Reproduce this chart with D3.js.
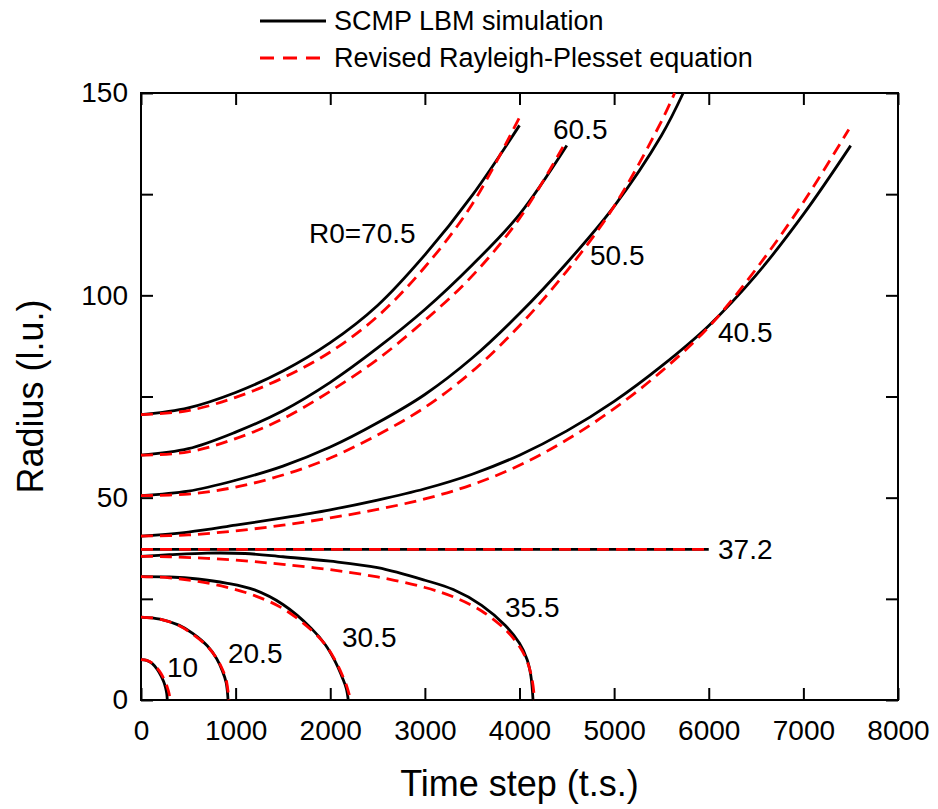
<!DOCTYPE html>
<html>
<head>
<meta charset="utf-8">
<script src="https://cdn.jsdelivr.net/npm/d3@7"></script>
<style>
  body { margin: 0; background: #fff; }
  text { font-family: "Liberation Sans", Arial, sans-serif; fill: #000; }
</style>
</head>
<body>
<div id="chart"></div>
<script>
// data: [time step, radius]
var sim705 = [[0,70.5],[500,72.2],[1000,76],[1500,81.3],[2000,88.3],[2500,97.5],[3000,110],[3500,124.7],[4000,142]];
var rp705  = [[0,70.5],[500,71.5],[1000,74.8],[1500,79.6],[2000,86],[2500,94.8],[3000,107],[3500,122.5],[4000,144]];
var sim605 = [[0,60.5],[500,62.1],[1000,66.2],[1500,71.5],[2000,78.5],[2500,87],[3000,96.5],[3500,107.5],[4000,120],[4500,137]];
var rp605  = [[0,60.5],[500,61.3],[1000,64.6],[1500,69.5],[2000,76.3],[2500,84.2],[3000,93.8],[3500,104.8],[4000,119],[4480,137.5]];
var sim505 = [[0,50.5],[500,51.6],[1000,54.3],[1500,57.8],[2000,62.5],[2500,68.5],[3000,75.5],[3500,84.5],[4000,95.5],[4500,108],[5000,122],[5500,139.5],[5730,150]];
var rp505  = [[0,50.5],[500,50.9],[1000,52.6],[1500,55.6],[2000,59.8],[2500,65.5],[3000,72.3],[3500,81.2],[4000,92.5],[4500,106],[5000,122],[5500,143],[5640,150]];
var sim405 = [[0,40.5],[500,41.5],[1000,43.2],[1500,45],[2000,47],[2500,49.4],[3000,52.2],[3500,55.8],[4000,60.5],[4500,66.5],[5000,73.8],[5500,82.5],[6000,92.5],[6500,105],[7000,120],[7500,137]];
var rp405  = [[0,40.5],[500,40.8],[1000,41.8],[1500,43.2],[2000,45],[2500,47.1],[3000,49.7],[3500,53.2],[4000,58],[4500,64.3],[5000,72],[5500,81.2],[6000,92.2],[6500,106.5],[7000,123],[7480,141]];
var sim372 = [[0,37.2],[6000,37.2]];
var rp372  = [[0,37.2],[6000,37.2]];
var sim355 = [[0,35.5],[300,35.9],[700,36.3],[1100,36.2],[1500,35.4],[2000,34.3],[2500,32.7],[3000,29.6],[3300,27.3],[3600,23.4],[3850,18.4],[4000,14],[4080,10],[4120,6],[4143,0]];
var rp355  = [[0,35.5],[300,35.4],[700,35],[1100,34.4],[1500,33.5],[2000,32.2],[2500,30.4],[3000,27.8],[3300,25.5],[3600,22],[3850,17.4],[4000,13.2],[4080,9.6],[4130,5.5],[4160,0]];
var sim305 = [[0,30.5],[300,30.4],[600,29.9],[900,28.9],[1200,27.2],[1500,23.6],[1800,17.7],[1950,13.6],[2050,9.6],[2130,5.4],[2170,2.8],[2190,0]];
var rp305  = [[0,30.5],[300,30.2],[600,29.3],[900,27.9],[1200,25.8],[1500,22.6],[1800,17.3],[1950,13.6],[2050,9.9],[2130,6],[2180,3],[2215,0]];
var sim205 = [[0,20.5],[200,20],[400,18.5],[550,16.4],[700,13.4],[800,10.2],[860,7.2],[900,4.3],[920,0]];
var rp205  = [[0,20.5],[200,20],[400,18.4],[550,16.2],[700,13.3],[800,10.3],[860,7.6],[900,5],[930,0]];
var sim10  = [[0,10],[60,9.8],[120,9],[170,7.6],[210,6],[240,4.5],[260,3],[272,1.6],[278,0]];
var rp10   = [[0,10],[60,9.8],[120,9.1],[170,7.9],[210,6.6],[250,4.8],[280,3],[298,1.5],[306,0]];

var simSeries = [sim705, sim605, sim505, sim405, sim372, sim355, sim305, sim205, sim10];
var rpSeries  = [rp705, rp605, rp505, rp405, rp372, rp355, rp305, rp205, rp10];

// curve labels and the (t, R) where each one sits
var curveLabels = ["R0=70.5", "60.5", "50.5", "40.5", "37.2", "35.5", "30.5", "20.5", "10"];
var labelT = [1775, 4354, 4745, 6098, 6098, 3847, 2124, 919, 275];
var labelR = [112.9, 138.6, 107.5, 88.5, 34.8, 20.5, 13.1, 9.1, 5.7];

var xTicks = [0, 1000, 2000, 3000, 4000, 5000, 6000, 7000, 8000];
var yTicks = [0, 25, 50, 75, 100, 125, 150];
var legendNames = ["SCMP LBM simulation", "Revised Rayleigh-Plesset equation"];

var W = 938, H = 809;
var margin = {left: 141, right: 898, top: 93, bottom: 700};

var svg = d3.select("#chart").append("svg")
  .attr("width", W).attr("height", H);

var x = d3.scaleLinear().domain([0, 8000]).range([margin.left, margin.right]);
var y = d3.scaleLinear().domain([0, 150]).range([margin.bottom, margin.top]);

function styleAxis(g) {
  g.select(".domain").remove();
  g.selectAll(".tick line").attr("stroke", "#000").attr("stroke-width", 2);
  g.selectAll("text").style("font-size", "28px")
    .style("font-family", "'Liberation Sans', Arial, sans-serif").attr("fill", "#000");
}

// axes, ticks pointing inwards
svg.append("g")
  .attr("transform", "translate(0," + margin.bottom + ")")
  .call(d3.axisBottom(x).tickValues(xTicks).tickSizeInner(-12).tickSizeOuter(0).tickPadding(20)
    .tickFormat(d3.format("d")))
  .call(styleAxis);
svg.append("g")
  .attr("transform", "translate(0," + margin.top + ")")
  .call(d3.axisTop(x).tickValues(xTicks).tickSizeInner(-12).tickSizeOuter(0).tickFormat(""))
  .call(styleAxis);
svg.append("g")
  .attr("transform", "translate(" + margin.left + ",0)")
  .call(d3.axisLeft(y).tickValues(yTicks).tickSizeInner(-12).tickSizeOuter(0).tickPadding(13)
    .tickFormat(function(d) { return d % 50 === 0 ? d : ""; }))
  .call(styleAxis);
svg.append("g")
  .attr("transform", "translate(" + margin.right + ",0)")
  .call(d3.axisRight(y).tickValues(yTicks).tickSizeInner(-12).tickSizeOuter(0).tickFormat(""))
  .call(styleAxis);

// frame
svg.append("rect")
  .attr("x", margin.left).attr("y", margin.top)
  .attr("width", margin.right - margin.left).attr("height", margin.bottom - margin.top)
  .attr("fill", "none").attr("stroke", "#000").attr("stroke-width", 2);

var line = d3.line()
  .x(function(d) { return x(d[0]); })
  .y(function(d) { return y(d[1]); })
  .curve(d3.curveCatmullRom.alpha(0.5));

var plot = svg.append("g");

plot.selectAll(".sim")
  .data(simSeries)
  .enter().append("path")
    .attr("class", "sim")
    .attr("d", line)
    .attr("fill", "none")
    .attr("stroke", "#000")
    .attr("stroke-width", 2.8);

plot.selectAll(".rp")
  .data(rpSeries)
  .enter().append("path")
    .attr("class", "rp")
    .attr("d", line)
    .attr("fill", "none")
    .attr("stroke", "#ff0000")
    .attr("stroke-width", 2.8)
    .attr("stroke-dasharray", "12,7");

// curve labels
svg.selectAll(".clabel")
  .data(curveLabels)
  .enter().append("text")
    .attr("class", "clabel")
    .attr("x", function(d, i) { return x(labelT[i]); })
    .attr("y", function(d, i) { return y(labelR[i]); })
    .style("font-size", "28px")
    .text(function(d) { return d; });

// axis titles
svg.append("text")
  .attr("x", (margin.left + margin.right) / 2)
  .attr("y", 796)
  .attr("text-anchor", "middle")
  .style("font-size", "36px")
  .text("Time step (t.s.)");

svg.append("text")
  .attr("transform", "translate(43," + (margin.top + margin.bottom) / 2 + ") rotate(-90)")
  .attr("text-anchor", "middle")
  .style("font-size", "36px")
  .text("Radius (l.u.)");

// legend
var legend = svg.append("g");
legend.append("line")
  .attr("x1", 260).attr("x2", 326).attr("y1", 21).attr("y2", 21)
  .attr("stroke", "#000").attr("stroke-width", 3);
legend.append("line")
  .attr("x1", 260).attr("x2", 326).attr("y1", 58).attr("y2", 58)
  .attr("stroke", "#ff0000").attr("stroke-width", 3)
  .attr("stroke-dasharray", "14,9");
legend.selectAll("text")
  .data(legendNames)
  .enter().append("text")
    .attr("x", 334)
    .attr("y", function(d, i) { return 30 + i * 37; })
    .style("font-size", "27px")
    .text(function(d) { return d; });
</script>
</body>
</html>
